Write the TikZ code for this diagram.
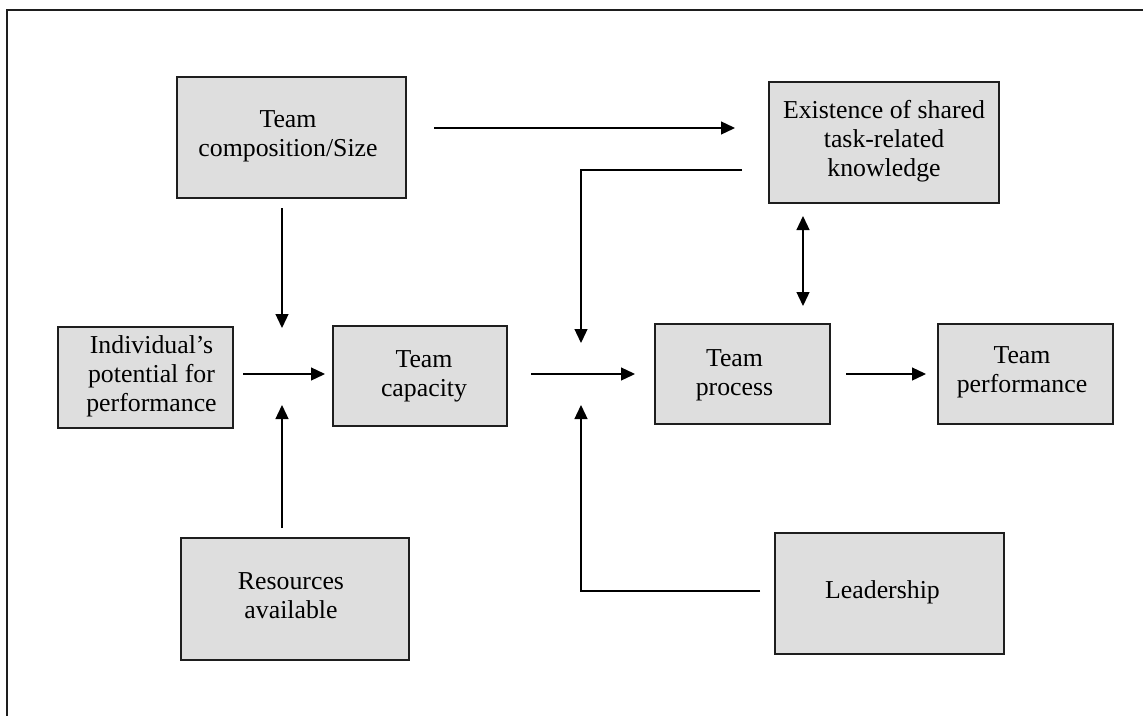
\documentclass[tikz,border=0pt]{standalone}
\usepackage{fontspec}
\setmainfont{Liberation Serif}
\usetikzlibrary{arrows.meta}
\definecolor{boxfill}{HTML}{DEDEDE}
\definecolor{boxline}{HTML}{1E1E1E}
\begin{document}
\begin{tikzpicture}[x=1pt,y=-1pt,
  box/.style={draw=boxline, fill=boxfill, line width=1.3pt, rectangle, inner sep=0pt},
  lbl/.style={align=center, font=\fontsize{25.8}{29}\selectfont, inner sep=0pt},
  tip/.tip={Triangle[length=14pt,width=13pt]},
  arr/.style={line width=1.3pt, -tip},
  darr/.style={line width=1.3pt, tip-tip}]
\useasboundingbox (0,0) rectangle (1143,715);
\clip (0,0) rectangle (1143,715);

% outer frame (only its top and left sides fall inside the page)
\draw[line width=1.4pt, color=boxline] (7,740) -- (7,10) -- (1170,10);

% boxes
\node[box, minimum width=229pt, minimum height=121pt] (comp)  at (291.5,137.5) {};
\node[box, minimum width=230pt, minimum height=121pt] (exist) at (884,142.5) {};
\node[box, minimum width=175pt, minimum height=101pt] (indiv) at (145.5,377.5) {};
\node[box, minimum width=174pt, minimum height=100pt] (cap)   at (420,376) {};
\node[box, minimum width=175pt, minimum height=100pt] (proc)  at (742.5,374) {};
\node[box, minimum width=175pt, minimum height=100pt] (perf)  at (1025.5,374) {};
\node[box, minimum width=228pt, minimum height=122pt] (res)   at (295,599) {};
\node[box, minimum width=229pt, minimum height=121pt] (lead)  at (889.5,593.5) {};

% box texts
\node[lbl] (comp-t)  at ([shift={(-3.5,-0.8)}]comp.center)  {Team\\composition/Size};
\node[lbl] (exist-t) at ([shift={(0,-1.6)}]exist.center)    {Existence of shared\\task-related\\knowledge};
\node[lbl] (indiv-t) at ([shift={(6,-1)}]indiv.center)      {Individual’s\\potential for\\performance};
\node[lbl] (cap-t)   at ([shift={(4,0.7)}]cap.center)       {Team\\capacity};
\node[lbl] (proc-t)  at ([shift={(-8,1.2)}]proc.center)     {Team\\process};
\node[lbl] (perf-t)  at ([shift={(-3.5,-1.3)}]perf.center)  {Team\\performance};
\node[lbl] (res-t)   at ([shift={(-4,-3.6)}]res.center)     {Resources\\available};
\node[lbl] (lead-t)  at ([shift={(-7,-1.6)}]lead.center)    {Leadership};

% connector end points
\coordinate (compR)  at (434,128);
\coordinate (existL) at (735,128);
\coordinate (existK) at (742,170);
\coordinate (hubRt)  at (581,343);
\coordinate (hubRb)  at (581,405);
\coordinate (leadL)  at (760,591);
\coordinate (compB)  at (282,208);
\coordinate (hubLt)  at (282,328);
\coordinate (resT)   at (282,528);
\coordinate (hubLb)  at (282,405);
\coordinate (indivR) at (243,374);
\coordinate (capL)   at (325,374);
\coordinate (capR)   at (531,374);
\coordinate (procL)  at (635,374);
\coordinate (procR)  at (846,374);
\coordinate (perfL)  at (926,374);
\coordinate (existB) at (803,216);
\coordinate (procT)  at (803,306);

% connectors
\draw[arr]  (compR) -- (existL);
\draw[arr]  (existK) -| (hubRt);
\draw[arr]  (leadL) -| (hubRb);
\draw[arr]  (compB) -- (hubLt);
\draw[arr]  (resT) -- (hubLb);
\draw[arr]  (indivR) -- (capL);
\draw[arr]  (capR) -- (procL);
\draw[arr]  (procR) -- (perfL);
\draw[darr] (existB) -- (procT);
\end{tikzpicture}
\end{document}
